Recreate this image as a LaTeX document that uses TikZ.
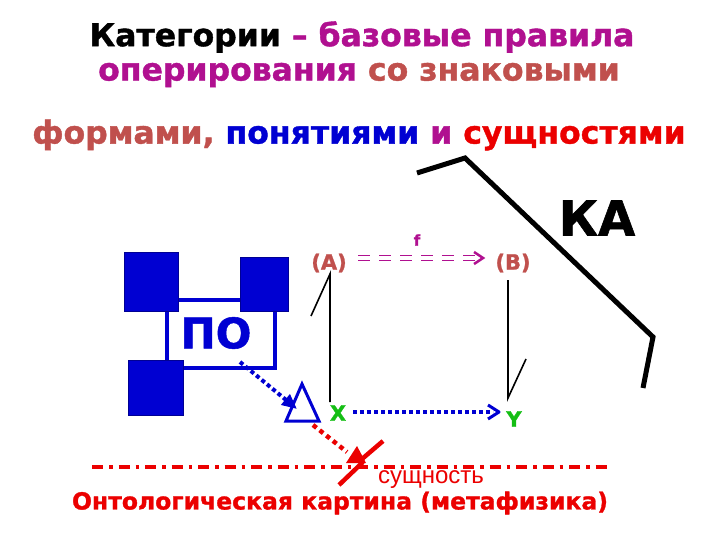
\documentclass[tikz,border=0pt]{standalone}
\usepackage{fontspec}
\setmainfont{DejaVu Sans}
\newfontfamily\heavy{DejaVu Sans}[UprightFont=*-Bold, FakeBold=1.2]
\newfontfamily\arialf{Liberation Sans}
\usetikzlibrary{arrows.meta}
\definecolor{purp}{RGB}{176,16,144}
\definecolor{brn}{RGB}{192,80,77}
\definecolor{blu}{RGB}{0,0,210}
\definecolor{rd}{RGB}{235,0,0}
\definecolor{grn}{RGB}{20,190,20}
\tikzset{
  title/.style={font=\heavy\fontsize{31.5}{36}\selectfont, inner sep=0},
  lbl/.style={font=\heavy\fontsize{21}{24}\selectfont, text=brn, inner sep=2},
  sq/.style={fill=blu, draw=blu!70!black, line width=1},
}
\begin{document}
\begin{tikzpicture}[x=1pt,y=-1pt]
\useasboundingbox (0,0) rectangle (720,540);
% titles
\node[title] (t1) at (362,37) {Категории \textcolor{purp}{– базовые правила}};
\node[title] (t2) at (359,75) {\textcolor{purp}{оперирования} \textcolor{brn}{со знаковыми}};
\node[title] (t3) at (359,135) {\textcolor{brn}{формами,} \textcolor{blu}{понятиями} \textcolor{purp}{и} \textcolor{rd}{сущностями}};
% KA bracket
\draw[line width=5, line join=miter] (417,173) -- (465,158) -- (653,337) -- (643,388);
\node[font=\heavy\fontsize{48}{56}\selectfont, inner sep=0] (ka) at (597,218) {КА};
% A, B
\node[lbl] (A) at (329,263) {(A)};
\node[lbl] (B) at (513,263) {(B)};
\node[font=\heavy\fontsize{15}{18}\selectfont, text=purp, inner sep=0] (f) at (417,240) {f};
\coordinate (fs) at (358,258);
\coordinate (fe) at (483,258);
\draw[purp, line width=1.3, dash pattern=on 12 off 9] ([yshift=-2.2]fs) -- ([yshift=-2.2]fe);
\draw[purp, line width=1.3, dash pattern=on 12 off 9] ([yshift=2.2]fs) -- ([yshift=2.2]fe);
\draw[purp, line width=2.5] ([shift={(-9,-6)}]fe) -- (fe) -- ([shift={(-9,6)}]fe);
% X, Y
\node[font=\heavy\fontsize{21}{24}\selectfont, text=grn, inner sep=0] (X) at (338,413) {X};
\node[font=\heavy\fontsize{21}{24}\selectfont, text=grn, inner sep=0] (Y) at (514,419) {Y};
\coordinate (xa1) at (330,402);
\coordinate (xa2) at (330,274);
\draw[line width=1.6] (xa1) -- (xa2) -- ++(-19,42);
\coordinate (by1) at (508,280);
\coordinate (by2) at (508,398);
\draw[line width=1.6] (by1) -- (by2) -- ++(18,-39);
\coordinate (xs) at (353,412);
\coordinate (ye) at (499,412);
\draw[blu, line width=4.5, dash pattern=on 4 off 3, shorten >=6] (xs) -- (ye);
\draw[blu, line width=3, line join=round] ([shift={(-11,-7)}]ye) -- (ye) -- ([shift={(-11,7)}]ye);
% PO
\draw[blu, line width=3.5] (167,300) rectangle (275,368);
\draw[sq] (124,252) rectangle (178,311);
\draw[sq] (240,257) rectangle (288,311);
\draw[sq] (128,360) rectangle (183,415);
\node[font=\heavy\fontsize{42}{48}\selectfont, text=blu, inner sep=0] (po) at (216,333) {ПО};
\coordinate (ps) at (240,362);
\coordinate (pe) at (297,409);
\draw[blu, line width=4, dash pattern=on 4 off 3, -{Triangle[length=15,width=13]}] (ps) -- (pe);
\draw[blu, line width=3, line join=miter] (286,421) -- (302,384) -- (319,421) -- cycle;
% red dotted and lightning
\draw[rd, line width=4.5, dash pattern=on 4.5 off 4] (313,425) -- (347,452);
\draw[rd, line width=3.2, dash pattern=on 11 off 6 on 3.5 off 6] (92,467) -- (612,467);
\draw[rd, line width=4.5] (383,441) -- (362,459);
\fill[rd] (357,446) -- (346,463) -- (366,463) -- cycle;
\draw[rd, line width=4.5] (363,462) -- (339,485);
\node[font=\arialf\fontsize{24}{28}\selectfont, text=rd, inner sep=0] (sus) at (431,480) {сущность};
\node[font=\heavy\fontsize{23.5}{28}\selectfont, text=rd, inner sep=0] (onto) at (340,503) {Онтологическая картина (метафизика)};
\end{tikzpicture}
\end{document}
